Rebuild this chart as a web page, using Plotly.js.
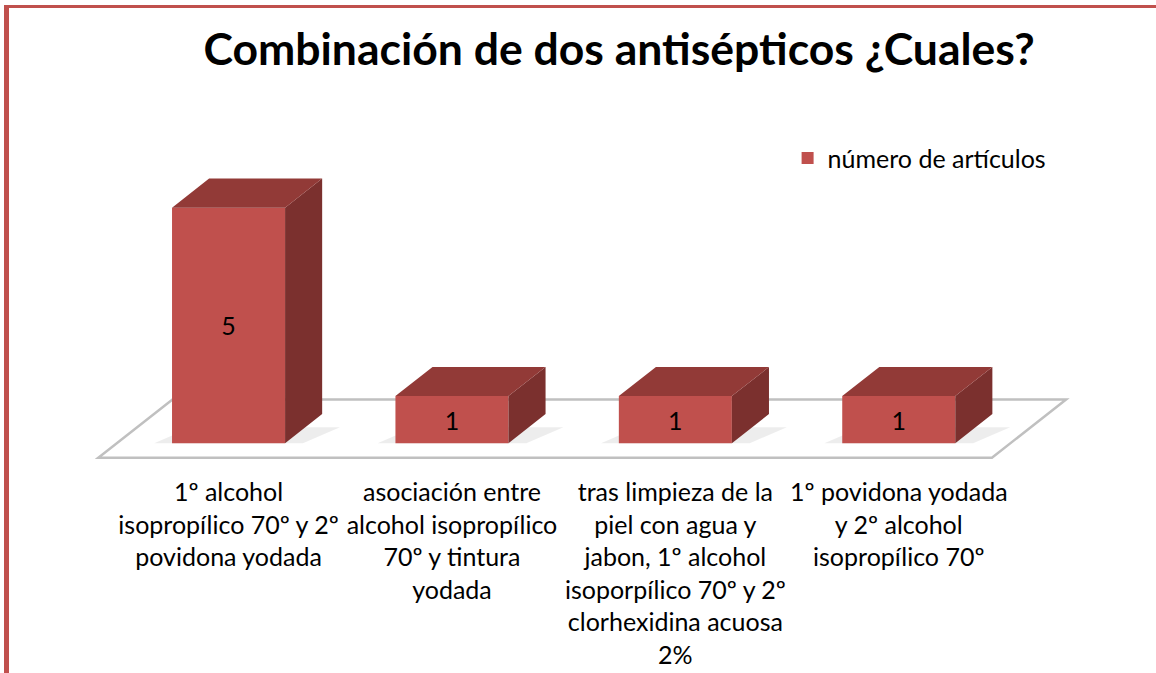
<!DOCTYPE html>
<html><head><meta charset="utf-8">
<script src="https://cdn.plot.ly/plotly-3.0.1.min.js"></script>
<style>
body{margin:0;background:#fff}
#wrap{position:relative;width:1156px;height:673px;overflow:hidden}
#frame{position:absolute;left:4px;top:5px;right:0;bottom:0;border-left:5px solid #C0504D;border-top:3px solid #C0504D;pointer-events:none;z-index:5}
</style>
</head><body>
<div id="wrap"><div id="chart" style="width:1156px;height:673px"></div><div id="frame"></div></div>
<script>
// ---- data ----
const categories = [
  "1º alcohol<br>isopropílico 70º y 2º<br>povidona yodada",
  "asociación entre<br>alcohol isopropílico<br>70º y tintura<br>yodada",
  "tras limpieza de la<br>piel con agua y<br>jabon, 1º alcohol<br>isoporpílico 70º y 2º<br>clorhexidina acuosa<br>2%",
  "1º povidona yodada<br>y 2º alcohol<br>isopropílico 70º"
];
const values = [5, 1, 1, 1];
const seriesName = "número de artículos";
const chartTitle = "Combinación de dos antisépticos ¿Cuales?";

// ---- style constants ----
const FONT = "Lato, sans-serif";
const FRONT = "rgb(192,80,77)", TOP = "rgb(146,58,55)", SIDE = "rgb(123,48,46)";
const BAR_W = 0.506, DX = 0.166, DY = 0.617;

const xs = categories.map((c, i) => i);
const sideX = [], sideY = [], topX = [], topY = [];
xs.forEach((x, i) => {
  const v = values[i], l = x - BAR_W / 2, r = x + BAR_W / 2;
  sideX.push(r, r + DX, r + DX, r, r, null);
  sideY.push(0, DY, v + DY, v, 0, null);
  topX.push(l, r, r + DX, l + DX, l, null);
  topY.push(v, v, v + DY, v + DY, v, null);
});

const n = categories.length;
const fL = -0.5 - 0.5 * DX, fR = n - 0.5 - 0.5 * DX, fy0 = -0.5 * DY, fy1 = 1.5 * DY;
const floorPath = `M ${fL} ${fy0} L ${fR} ${fy0} L ${fR + 2 * DX} ${fy1} L ${fL + 2 * DX} ${fy1} Z`;

const shadowShapes = xs.map((x, i) => {
  const l = x - BAR_W / 2 - 0.08, r = x + BAR_W / 2 + DX + 0.08;
  const h = DY * 0.55;
  return {type: "path", xref: "x", yref: "y", layer: "below",
    path: `M ${l} 0 L ${r - DX} 0 L ${r} ${h} L ${l + DX} ${h} Z`,
    fillcolor: "rgba(0,0,0,0.07)", line: {width: 0}};
});

const traces = [
  {type: "bar", x: xs, y: values, width: BAR_W, name: seriesName,
   marker: {color: FRONT, line: {width: 0}},
   texttemplate: "%{y}", textposition: "inside", insidetextanchor: "middle",
   textfont: {family: FONT, size: 25, color: "#000"}, constraintext: "none",
   hoverinfo: "skip"},
  {type: "scatter", x: sideX, y: sideY, mode: "lines", fill: "toself",
   fillcolor: SIDE, line: {width: 0, color: SIDE}, showlegend: false, hoverinfo: "skip"},
  {type: "scatter", x: topX, y: topY, mode: "lines", fill: "toself",
   fillcolor: TOP, line: {width: 0, color: TOP}, showlegend: false, hoverinfo: "skip"}
];

const layout = {
  width: 1156, height: 673,
  margin: {l: 61, r: 45, t: 170, b: 211, pad: 0},
  paper_bgcolor: "#fff", plot_bgcolor: "rgba(0,0,0,0)",
  font: {family: FONT, color: "#000"},
  title: {text: chartTitle, x: 0.5355, xref: "container", xanchor: "center",
          y: 0.927, yref: "container", yanchor: "middle",
          font: {family: FONT, size: 44.5, weight: "bold", color: "#000"}},
  showlegend: true,
  legend: {x: 0.692, xanchor: "left", y: 1.04, yanchor: "middle",
           font: {family: FONT, size: 25, color: "#000"}, bgcolor: "rgba(0,0,0,0)"},
  xaxis: {range: [-0.75, 3.95], tickvals: xs, ticktext: categories,
          showgrid: false, zeroline: false, showline: false, ticks: "",
          ticklabelstandoff: 13,
          tickfont: {family: FONT, size: 25, color: "#000"}, fixedrange: true},
  yaxis: {range: [-0.4, 5.8], showgrid: false, zeroline: false, showline: false,
          showticklabels: false, ticks: "", fixedrange: true},
  shapes: [
    {type: "path", xref: "x", yref: "y", layer: "below", path: floorPath,
     fillcolor: "#fff", line: {color: "rgb(192,192,192)", width: 2.5}}
  ].concat(shadowShapes),
  hovermode: false
};

Plotly.newPlot("chart", traces, layout, {displayModeBar: false, staticPlot: true});
</script>
</body></html>
